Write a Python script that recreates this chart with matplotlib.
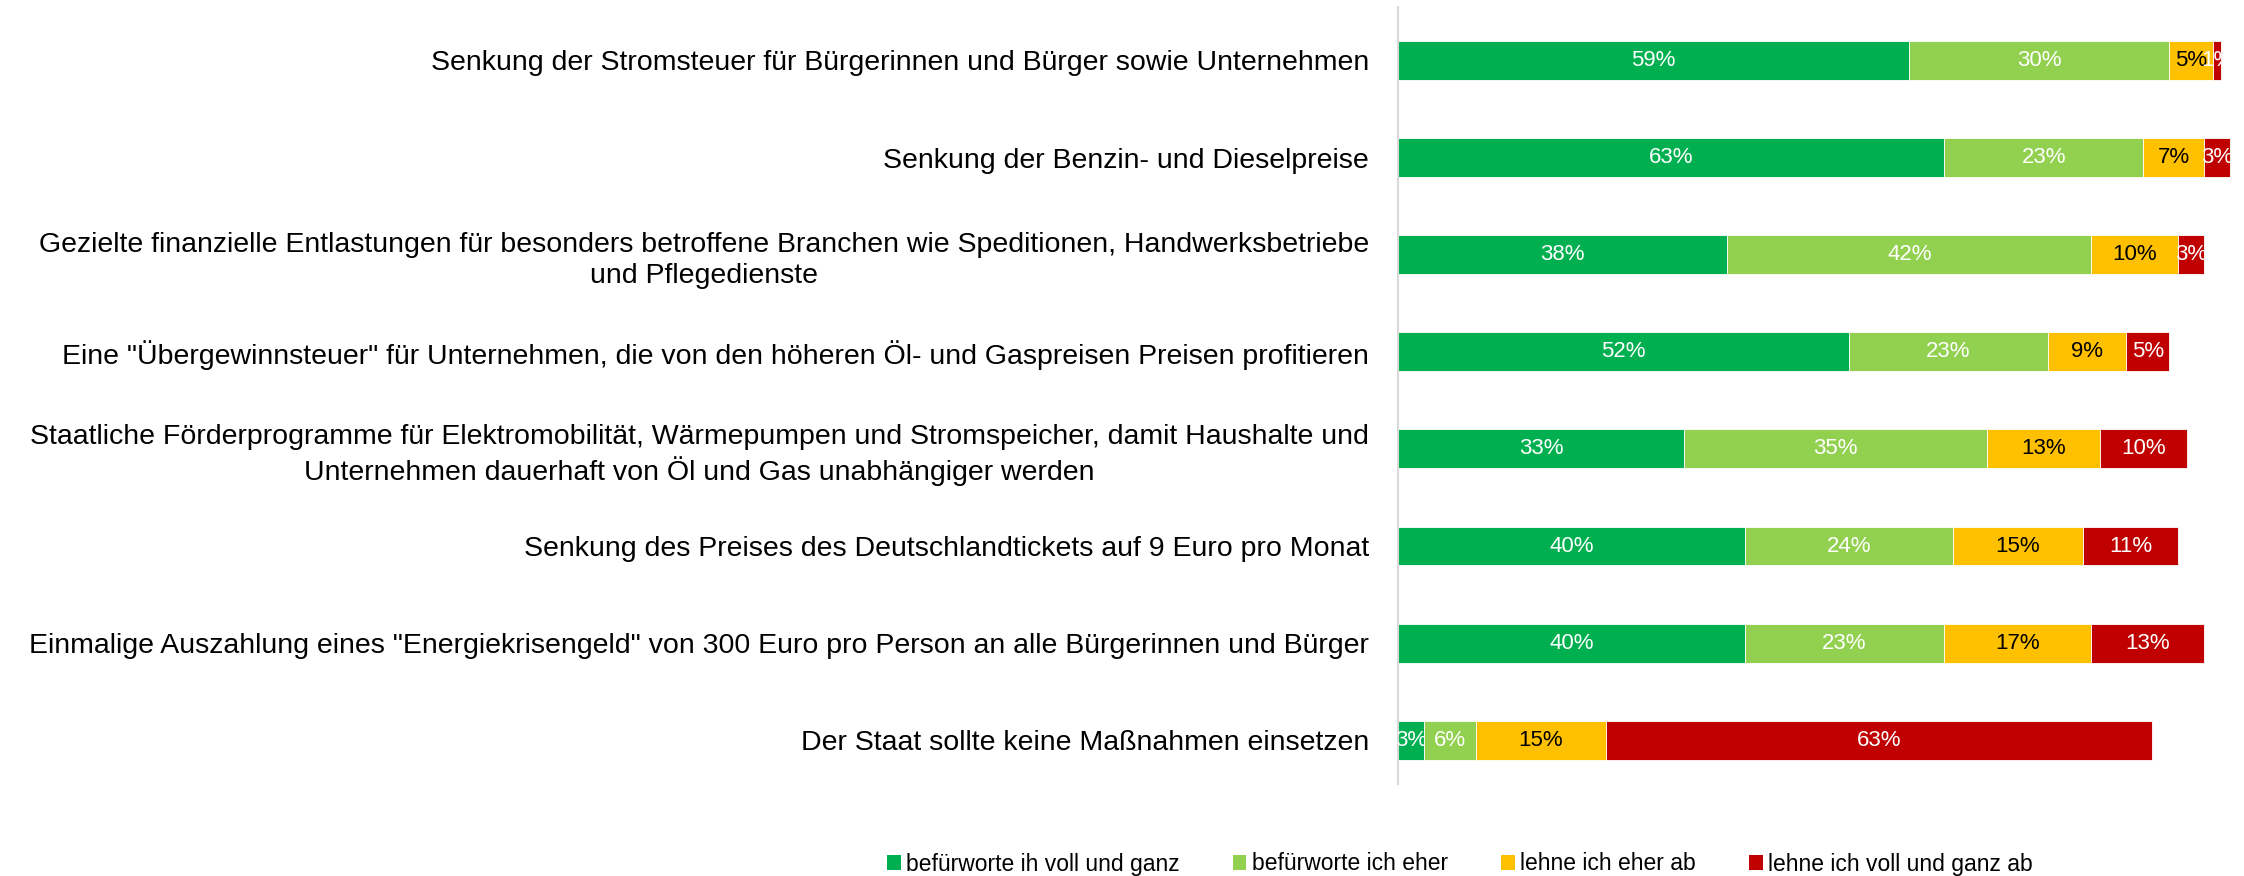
import matplotlib.pyplot as plt
from matplotlib.patches import Patch
from matplotlib.transforms import Bbox, TransformedBbox
import numpy as np

# =============================================================================
# Daten
# =============================================================================

categories = [
    "Senkung der Stromsteuer für Bürgerinnen und Bürger sowie Unternehmen",
    "Senkung der Benzin- und Dieselpreise",
    "Gezielte finanzielle Entlastungen für besonders betroffene Branchen wie Speditionen, Handwerksbetriebe\n"
    "und Pflegedienste",
    'Eine "Übergewinnsteuer" für Unternehmen, die von den höheren Öl- und Gaspreisen Preisen profitieren',
    "Staatliche Förderprogramme für Elektromobilität, Wärmepumpen und Stromspeicher, damit Haushalte und\n"
    "Unternehmen dauerhaft von Öl und Gas unabhängiger werden",
    "Senkung des Preises des Deutschlandtickets auf 9 Euro pro Monat",
    'Einmalige Auszahlung eines "Energiekrisengeld" von 300 Euro pro Person an alle Bürgerinnen und Bürger',
    "Der Staat sollte keine Maßnahmen einsetzen",
]

befuerworte_voll = [59, 63, 38, 52, 33, 40, 40, 3]
befuerworte_eher = [30, 23, 42, 23, 35, 24, 23, 6]
lehne_eher_ab = [5, 7, 10, 9, 13, 15, 17, 15]
lehne_voll_ab = [1, 3, 3, 5, 10, 11, 13, 63]

series_names = ["befürworte ih voll und ganz", "befürworte ich eher",
                "lehne ich eher ab", "lehne ich voll und ganz ab"]

# =============================================================================
# Stil
# =============================================================================

W, H = 2244, 876
colors = ['#00B050', '#92D050', '#FFC000', '#C00000']
text_colors = ['white', 'white', 'black', 'white']
plt.rcParams['font.family'] = ['Liberation Sans', 'DejaVu Sans']

fig = plt.figure(figsize=(W / 100, H / 100), dpi=100)
ax = fig.add_axes([1398 / W, 92 / H, 1 - 1398 / W, 777 / H])

series = [befuerworte_voll, befuerworte_eher, lehne_eher_ab, lehne_voll_ab]
y = np.arange(len(categories))
left = np.zeros(len(categories))
for vals, col, tcol in zip(series, colors, text_colors):
    bars = ax.barh(y, vals, left=left, height=0.4, color=col,
                   edgecolor='white', linewidth=0.6)
    anns = ax.bar_label(bars, labels=[f'{v}%' for v in vals], label_type='center',
                        color=tcol, fontsize=16)
    # wie in Excel: Beschriftung am rechten Balkenende abschneiden
    for a, b in zip(anns, bars):
        right = b.get_x() + b.get_width()
        cy = b.get_y() + b.get_height() / 2
        a.set_clip_on(True)
        a.set_clip_box(TransformedBbox(Bbox([[0, cy - 0.5], [right, cy + 0.5]]), ax.transData))
    left += np.array(vals)

ax.set_xlim(0, 97.6)
ax.set_ylim(7.45, -0.55)
ax.set_xticks([])
ax.set_yticks(y, labels=categories, fontsize=20.5)
ax.tick_params(axis='y', length=0, pad=21)
for t in ax.get_yticklabels():
    t.set_multialignment('center')
    t.set_linespacing(1.25)

for s in ['top', 'right', 'bottom']:
    ax.spines[s].set_visible(False)
ax.spines['left'].set_color('#D9D9D9')
ax.spines['left'].set_linewidth(1.5)

handles = [Patch(facecolor=c) for c in colors]
fig.legend(handles, series_names, loc='center', bbox_to_anchor=(1460 / W, 1 - 864 / H),
           ncol=4, frameon=False, handlelength=0.6, handleheight=0.6, handletextpad=0.25,
           columnspacing=2.3, fontsize=16.5)

fig.savefig('out.png', dpi=100)
